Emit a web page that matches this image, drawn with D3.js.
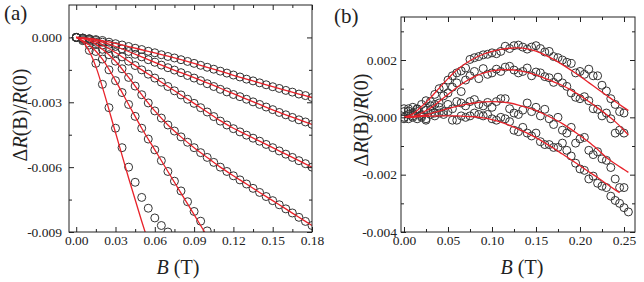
<!DOCTYPE html>
<meta charset="utf-8">
<script src="https://d3js.org/d3.v7.min.js"></script>
<style>
  body { margin: 0; background: #fff; }
</style>
<div id="chart"></div>
<script>
// ---- panel (a) data, dR/R in units of 1e-3 ----
var fieldA = [0,0.005,0.01,0.015,0.02,0.025,0.03,0.035,0.04,0.045,0.05,0.055,0.06,0.065,0.07,0.075,0.08,0.085,0.09,0.095,0.10,0.105,0.11,0.115,0.12,0.125,0.13,0.135,0.14,0.145,0.15,0.155,0.16,0.165,0.17,0.175,0.18];
var measA1 = [0,-0.03,-0.06,-0.10,-0.14,-0.22,-0.29,-0.35,-0.42,-0.50,-0.56,-0.64,-0.71,-0.80,-0.88,-0.95,-1.03,-1.11,-1.20,-1.29,-1.38,-1.47,-1.56,-1.65,-1.74,-1.83,-1.93,-2.01,-2.10,-2.19,-2.28,-2.36,-2.45,-2.53,-2.62,-2.69,-2.78];
var measA2 = [0,-0.03,-0.07,-0.14,-0.22,-0.32,-0.42,-0.53,-0.65,-0.78,-0.90,-1.03,-1.15,-1.28,-1.40,-1.51,-1.63,-1.76,-1.88,-2.00,-2.14,-2.27,-2.40,-2.52,-2.64,-2.74,-2.86,-2.98,-3.10,-3.22,-3.34,-3.47,-3.58,-3.70,-3.81,-3.91,-4.02];
var measA3 = [0,-0.04,-0.10,-0.22,-0.35,-0.52,-0.70,-0.90,-1.10,-1.30,-1.50,-1.70,-1.88,-2.07,-2.27,-2.47,-2.66,-2.86,-3.05,-3.25,-3.45,-3.66,-3.87,-4.05,-4.22,-4.37,-4.52,-4.66,-4.80,-4.95,-5.10,-5.25,-5.40,-5.55,-5.70,-5.84,-6.00];
var measA4 = [0,-0.05,-0.15,-0.33,-0.55,-0.80,-1.10,-1.45,-1.85,-2.25,-2.65,-3.03,-3.40,-3.73,-4.05,-4.33,-4.60,-4.85,-5.10,-5.33,-5.55,-5.78,-6.00,-6.20,-6.40,-6.59,-6.78,-6.98,-7.17,-7.36,-7.55,-7.74,-7.93,-8.12,-8.32,-8.51,-8.70];
var measA5 = [0,-0.10,-0.35,-0.65,-1.00,-1.50,-2.00,-2.55,-3.10,-3.65,-4.20,-4.70,-5.20,-5.70,-6.20,-6.65,-7.10,-7.60,-8.05,-8.50,-8.95];
var measA6 = [0,-0.15,-0.60,-1.20,-2.17,-3.25,-4.20,-5.10,-6.00,-6.70,-7.40,-7.90,-8.35,-8.70,-9.00];

var fitFieldA = [0,0.01,0.02,0.03,0.04,0.05,0.06,0.07,0.08,0.09,0.10,0.11,0.12,0.13,0.14,0.15,0.16,0.17,0.18];
var fitA1 = [0,-0.05,-0.15,-0.28,-0.42,-0.57,-0.72,-0.87,-1.03,-1.20,-1.38,-1.56,-1.75,-1.93,-2.10,-2.28,-2.45,-2.62,-2.78];
var fitA2 = [0,-0.07,-0.22,-0.42,-0.65,-0.90,-1.15,-1.40,-1.63,-1.86,-2.10,-2.35,-2.60,-2.85,-3.10,-3.35,-3.58,-3.80,-4.02];
var fitA3 = [0,-0.10,-0.35,-0.70,-1.10,-1.50,-1.88,-2.27,-2.66,-3.05,-3.45,-3.85,-4.20,-4.50,-4.80,-5.10,-5.40,-5.70,-6.00];
var fitA4 = [0,-0.15,-0.55,-1.10,-1.85,-2.65,-3.40,-4.05,-4.60,-5.10,-5.55,-6.00,-6.40,-6.78,-7.17,-7.55,-7.93,-8.32,-8.70];
var fitA5 = [0,-0.35,-1.00,-2.00,-3.10,-4.20,-5.20,-6.20,-7.20,-8.20,-9.20];
var fitField6 = [0,0.005,0.01,0.015,0.02,0.03,0.04,0.05,0.06];
var fitA6 = [0,-0.20,-0.65,-1.35,-2.30,-4.40,-6.50,-8.50,-10.40];

var xTicksA = [0,0.03,0.06,0.09,0.12,0.15,0.18];
var xMinorA = [0.015,0.045,0.075,0.105,0.135,0.165];
var yTicksA = [0,-3,-6,-9];
var yMinorA = [-1.5,-4.5,-7.5];

// ---- panel (b) data, dR/R in units of 1e-3 ----
var fieldB = [0,0.005,0.01,0.015,0.02,0.025,0.03,0.035,0.04,0.045,0.05,0.055,0.06,0.065,0.07,0.075,0.08,0.085,0.09,0.095,0.10,0.105,0.11,0.115,0.12,0.125,0.13,0.135,0.14,0.145,0.15,0.155,0.16,0.165,0.17,0.175,0.18,0.185,0.19,0.195,0.20,0.205,0.21,0.215,0.22,0.225,0.23,0.235,0.24,0.245,0.25,0.255];
var measB1 = [0.30,0.22,0.35,0.28,0.45,0.58,0.55,0.80,1.00,1.05,1.30,1.45,1.55,1.62,1.72,2.02,2.08,2.12,2.18,2.20,2.25,2.22,2.30,2.48,2.40,2.50,2.52,2.45,2.38,2.45,2.50,2.40,2.28,2.30,2.12,2.08,2.00,1.92,1.88,1.55,1.60,1.50,1.68,1.45,1.45,1.12,0.92,0.65,0.45,0.20,0.15];
var measB2 = [-0.05,0.10,0.00,0.20,0.05,0.25,0.40,0.45,0.50,0.75,0.85,1.05,1.20,0.90,1.30,1.45,1.60,1.35,1.70,1.50,1.55,1.68,1.60,1.75,1.78,1.65,1.55,1.60,1.72,1.45,1.58,1.55,1.42,1.38,1.22,1.40,1.20,1.08,0.85,0.70,0.65,0.72,0.58,0.30,0.28,0.05,0.15,-0.05,-0.55,-0.45,-0.55];
var measB3 = [0.20,0.30,0.15,0.30,0.10,-0.05,0.25,0.15,0.35,0.20,0.45,0.30,0.55,0.50,0.40,0.55,0.62,0.45,0.40,0.52,0.35,0.55,0.65,0.65,0.30,0.15,0.10,0.25,0.50,0.20,0.35,0.05,0.28,-0.05,-0.25,0.00,-0.45,-0.55,-0.35,-0.90,-0.75,-0.70,-1.15,-1.30,-1.20,-1.45,-1.50,-1.75,-2.15,-2.45,-2.45];
var measB4 = [0.00,-0.05,0.05,-0.05,0.00,-0.10,0.10,0.05,0.15,0.10,0.20,-0.10,-0.10,0.05,0.00,0.05,0.15,0.10,0.05,0.10,-0.05,-0.10,0.00,-0.05,-0.15,-0.45,-0.50,-0.35,-0.55,-0.65,-0.55,-0.85,-0.95,-0.95,-1.05,-1.05,-0.90,-1.15,-1.35,-1.60,-1.80,-1.85,-2.15,-2.05,-2.30,-2.40,-2.45,-2.75,-2.90,-3.00,-3.15,-3.30];

var fitFieldB = [0,0.01,0.02,0.03,0.04,0.05,0.06,0.07,0.08,0.09,0.10,0.11,0.12,0.13,0.14,0.15,0.16,0.17,0.18,0.19,0.20,0.21,0.22,0.23,0.24,0.25,0.255];
var fitB1 = [0,0.12,0.38,0.68,1.02,1.35,1.65,1.88,2.06,2.20,2.30,2.37,2.41,2.42,2.39,2.31,2.18,2.02,1.84,1.64,1.43,1.21,0.99,0.77,0.55,0.34,0.24];
var fitB2 = [0,0.03,0.15,0.32,0.55,0.80,1.04,1.25,1.42,1.54,1.62,1.66,1.66,1.63,1.57,1.48,1.36,1.24,1.11,0.95,0.76,0.55,0.33,0.10,-0.15,-0.45,-0.62];
var fitB3 = [0,0.02,0.06,0.13,0.22,0.30,0.38,0.45,0.50,0.54,0.55,0.54,0.50,0.43,0.34,0.24,0.10,-0.05,-0.22,-0.42,-0.64,-0.86,-1.12,-1.40,-1.62,-1.82,-1.92];
var fitFieldB4 = [0,0.01,0.02,0.03,0.04,0.05,0.06,0.07,0.08,0.09,0.10,0.11,0.12,0.13,0.14,0.15,0.16,0.17,0.18,0.19,0.20,0.21,0.22,0.23,0.24,0.245];
var fitB4 = [0,0.01,0.03,0.04,0.05,0.05,0.05,0.03,0.02,-0.02,-0.08,-0.17,-0.28,-0.41,-0.55,-0.71,-0.89,-1.08,-1.28,-1.48,-1.69,-1.90,-2.10,-2.32,-2.53,-2.63];

var xTicksB = [0,0.05,0.10,0.15,0.20,0.25];
var xMinorB = [0.025,0.075,0.125,0.175,0.225];
var yTicksB = [2,0,-2,-4];
var yMinorB = [3,1,-1,-3];

var W = 644, H = 282;
var SERIF = "'Liberation Serif'";
var svg = d3.select("#chart").append("svg").attr("width", W).attr("height", H);

function zip(xs, ys) { return ys.map(function(v, i) { return [xs[i], v]; }); }

function drawPanel(p) {
  var x = d3.scaleLinear().domain(p.xDomain).range([p.left, p.right]);
  var y = d3.scaleLinear().domain(p.yDomain).range([p.bottom, p.top]);
  var g = svg.append("g");

  g.append("clipPath").attr("id", p.id + "-clip")
    .append("rect").attr("x", p.left).attr("y", p.top)
    .attr("width", p.right - p.left).attr("height", p.bottom - p.top);

  var plot = g.append("g").attr("clip-path", "url(#" + p.id + "-clip)");

  p.meas.forEach(function(s) {
    plot.append("g").selectAll("circle")
      .data(zip(p.field, s))
      .enter().append("circle")
      .attr("cx", function(d) { return x(d[0]); })
      .attr("cy", function(d) { return y(d[1]); })
      .attr("r", 4)
      .attr("fill", "none")
      .attr("stroke", "#333")
      .attr("stroke-width", 1);
  });

  var line = d3.line()
    .x(function(d) { return x(d[0]); })
    .y(function(d) { return y(d[1]); })
    .curve(d3.curveCatmullRom.alpha(0.5));

  p.fits.forEach(function(f) {
    plot.append("path")
      .attr("d", line(zip(f[0], f[1])))
      .attr("fill", "none")
      .attr("stroke", "#e8222a")
      .attr("stroke-width", 1.3);
  });

  // frame
  g.append("rect").attr("x", p.left).attr("y", p.top)
    .attr("width", p.right - p.left).attr("height", p.bottom - p.top)
    .attr("fill", "none").attr("stroke", "#222").attr("stroke-width", 1);

  function addAxis(axis, tx, ty, labelled) {
    var a = g.append("g").attr("transform", "translate(" + tx + "," + ty + ")").call(axis);
    a.select(".domain").remove();
    a.selectAll("line").attr("stroke", "#222");
    a.selectAll("text").attr("fill", "#222")
      .style("font-family", SERIF).style("font-size", "13.5px");
    if (!labelled) a.selectAll("text").remove();
  }

  // major + minor ticks, all pointing inward, mirrored on top and right
  addAxis(d3.axisBottom(x).tickValues(p.xTicks).tickFormat(p.xFmt).tickSize(-5).tickPadding(3), 0, p.bottom, true);
  addAxis(d3.axisBottom(x).tickValues(p.xMinor).tickSize(-3), 0, p.bottom, false);
  addAxis(d3.axisTop(x).tickValues(p.xTicks).tickSize(-5), 0, p.top, false);
  addAxis(d3.axisTop(x).tickValues(p.xMinor).tickSize(-3), 0, p.top, false);
  addAxis(d3.axisLeft(y).tickValues(p.yTicks).tickFormat(p.yFmt).tickSize(-5).tickPadding(p.yPad), p.left, 0, true);
  addAxis(d3.axisLeft(y).tickValues(p.yMinor).tickSize(-3), p.left, 0, false);
  addAxis(d3.axisRight(y).tickValues(p.yTicks).tickSize(-5), p.right, 0, false);
  addAxis(d3.axisRight(y).tickValues(p.yMinor).tickSize(-3), p.right, 0, false);

  // axis titles
  var xt = g.append("text").attr("x", p.xTitleX).attr("y", 274)
    .attr("text-anchor", "middle").style("font-family", SERIF).style("font-size", "20px").attr("fill", "#222");
  xt.append("tspan").attr("font-style", "italic").text("B");
  xt.append("tspan").text(" (T)");

  var yt = g.append("text")
    .attr("transform", "translate(" + p.yTitleX + "," + p.yTitleY + ") rotate(-90)")
    .attr("text-anchor", "middle").style("font-family", SERIF).style("font-size", "20px").attr("fill", "#222");
  yt.append("tspan").text("\u0394");
  yt.append("tspan").attr("font-style", "italic").text("R");
  yt.append("tspan").text("(B)/");
  yt.append("tspan").attr("font-style", "italic").text("R");
  yt.append("tspan").text("(0)");

  g.append("text").attr("x", p.tagX).attr("y", p.tagY)
    .style("font-family", SERIF).style("font-size", "21px").attr("fill", "#222").text(p.tag);
}

var fmt3 = function(v) { return (v / 1000).toFixed(3); };

drawPanel({
  id: "pa", tag: "(a)", tagX: 4, tagY: 20,
  left: 69, right: 312, top: 5, bottom: 232,
  xDomain: [-0.0055, 0.18], yDomain: [-9, 1.5],
  field: fieldA,
  meas: [measA1, measA2, measA3, measA4, measA5, measA6],
  fits: [[fitFieldA, fitA1], [fitFieldA, fitA2], [fitFieldA, fitA3], [fitFieldA, fitA4],
         [fitFieldA, fitA5], [fitField6, fitA6]],
  xTicks: xTicksA, xMinor: xMinorA, yTicks: yTicksA, yMinor: yMinorA,
  xFmt: d3.format(".2f"), yFmt: fmt3, yPad: 7,
  xTitleX: 178, yTitleX: 27, yTitleY: 115
});

drawPanel({
  id: "pb", tag: "(b)", tagX: 334, tagY: 23,
  left: 401, right: 635, top: 17, bottom: 232,
  xDomain: [-0.0034, 0.2625], yDomain: [-4, 3.5],
  field: fieldB,
  meas: [measB1, measB2, measB3, measB4],
  fits: [[fitFieldB, fitB1], [fitFieldB, fitB2], [fitFieldB, fitB3], [fitFieldB4, fitB4]],
  xTicks: xTicksB, xMinor: xMinorB, yTicks: yTicksB, yMinor: yMinorB,
  xFmt: d3.format(".2f"), yFmt: fmt3, yPad: 4,
  xTitleX: 522, yTitleX: 368, yTitleY: 120
});
</script>
